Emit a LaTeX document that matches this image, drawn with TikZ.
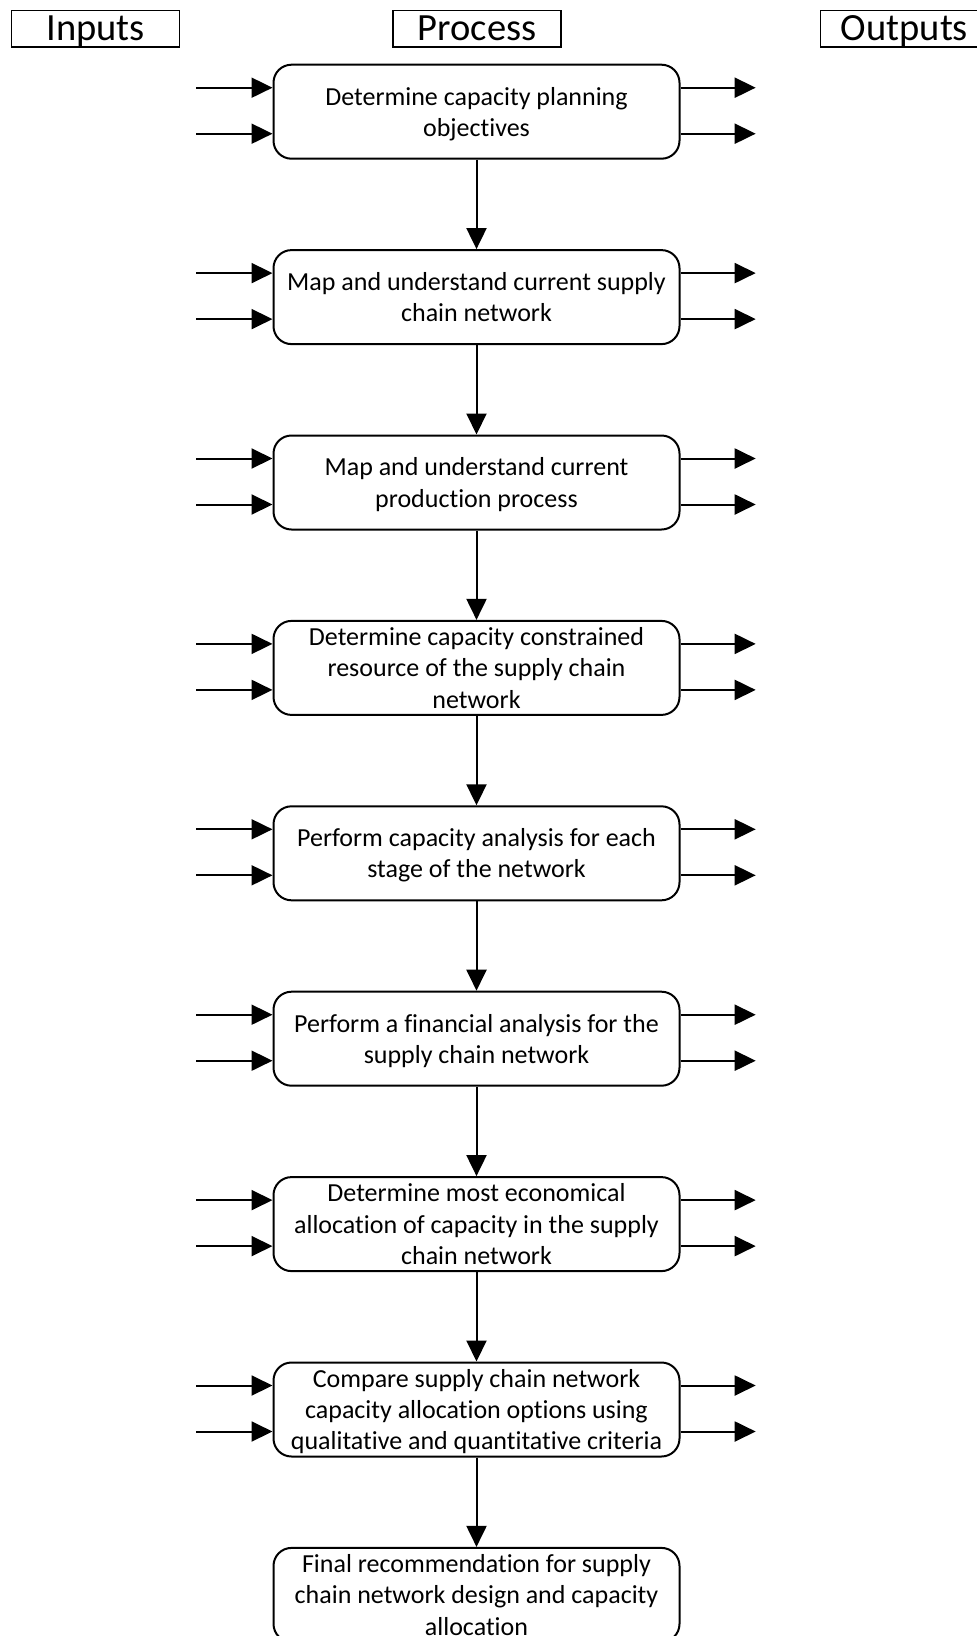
\documentclass[tikz,border=0pt]{standalone}
\usepackage{fontspec}
\setmainfont[Ligatures=NoCommon]{Carlito}
\usetikzlibrary{arrows.meta}
\begin{document}
\begin{tikzpicture}[x=1pt,y=-1pt,
  hdr/.style={draw, line width=1.3pt, minimum width=168pt, minimum height=36.6pt, inner sep=0pt, font=\fontsize{38.5}{40}\selectfont, text height=26pt, text depth=2pt},
  proc/.style={draw, line width=2pt, rounded corners=18pt, minimum width=406pt, minimum height=94pt, inner sep=0pt, align=center, text depth=0pt, font=\fontsize{26}{31.3}\selectfont},
  arr/.style={line width=2pt, -{Triangle[length=21pt,width=20pt]}}]
\useasboundingbox (0,0) rectangle (977,1636);
\clip (0,0) rectangle (977,1636);
\node[hdr] (hin) at (95.5,28.7) {Inputs};
\node[hdr] (hproc) at (477,28.7) {Process};
\node[hdr] (hout) at (904.5,28.7) {Outputs};
\node[proc] (p1) at (476.5,111.7) {Determine capacity planning\\objectives};
\node[proc] (p2) at (476.5,297.1) {Map and understand current supply\\chain network};
\node[proc] (p3) at (476.5,482.5) {Map and understand current\\production process};
\node[proc] (p4) at (476.5,667.9) {Determine capacity constrained\\resource of the supply chain\\network};
\node[proc] (p5) at (476.5,853.3) {Perform capacity analysis for each\\stage of the network};
\node[proc] (p6) at (476.5,1038.7) {Perform a financial analysis for the\\supply chain network};
\node[proc] (p7) at (476.5,1224.1) {Determine most economical\\allocation of capacity in the supply\\chain network};
\node[proc] (p8) at (476.5,1409.5) {Compare supply chain network\\capacity allocation options using\\qualitative and quantitative criteria};
\node[proc] (p9) at (476.5,1594.9) {Final recommendation for supply\\chain network design and capacity\\allocation};
\foreach \k in {1,...,8}{
  \pgfmathtruncatemacro\n{\k+1}
  \pgfmathsetmacro\ya{111.7+185.4*(\k-1)-24}
  \pgfmathsetmacro\yb{111.7+185.4*(\k-1)+22}
  \coordinate (ia\k) at (196,\ya);
  \coordinate (ib\k) at (196,\yb);
  \coordinate (oa\k) at (755.7,\ya);
  \coordinate (ob\k) at (755.7,\yb);
  \draw[arr] (ia\k) -- (p\k.west |- ia\k);
  \draw[arr] (ib\k) -- (p\k.west |- ib\k);
  \draw[arr] (p\k.east |- oa\k) -- (oa\k);
  \draw[arr] (p\k.east |- ob\k) -- (ob\k);
  \draw[arr] (p\k.south) -- (p\n.north);
}
\end{tikzpicture}
\end{document}
